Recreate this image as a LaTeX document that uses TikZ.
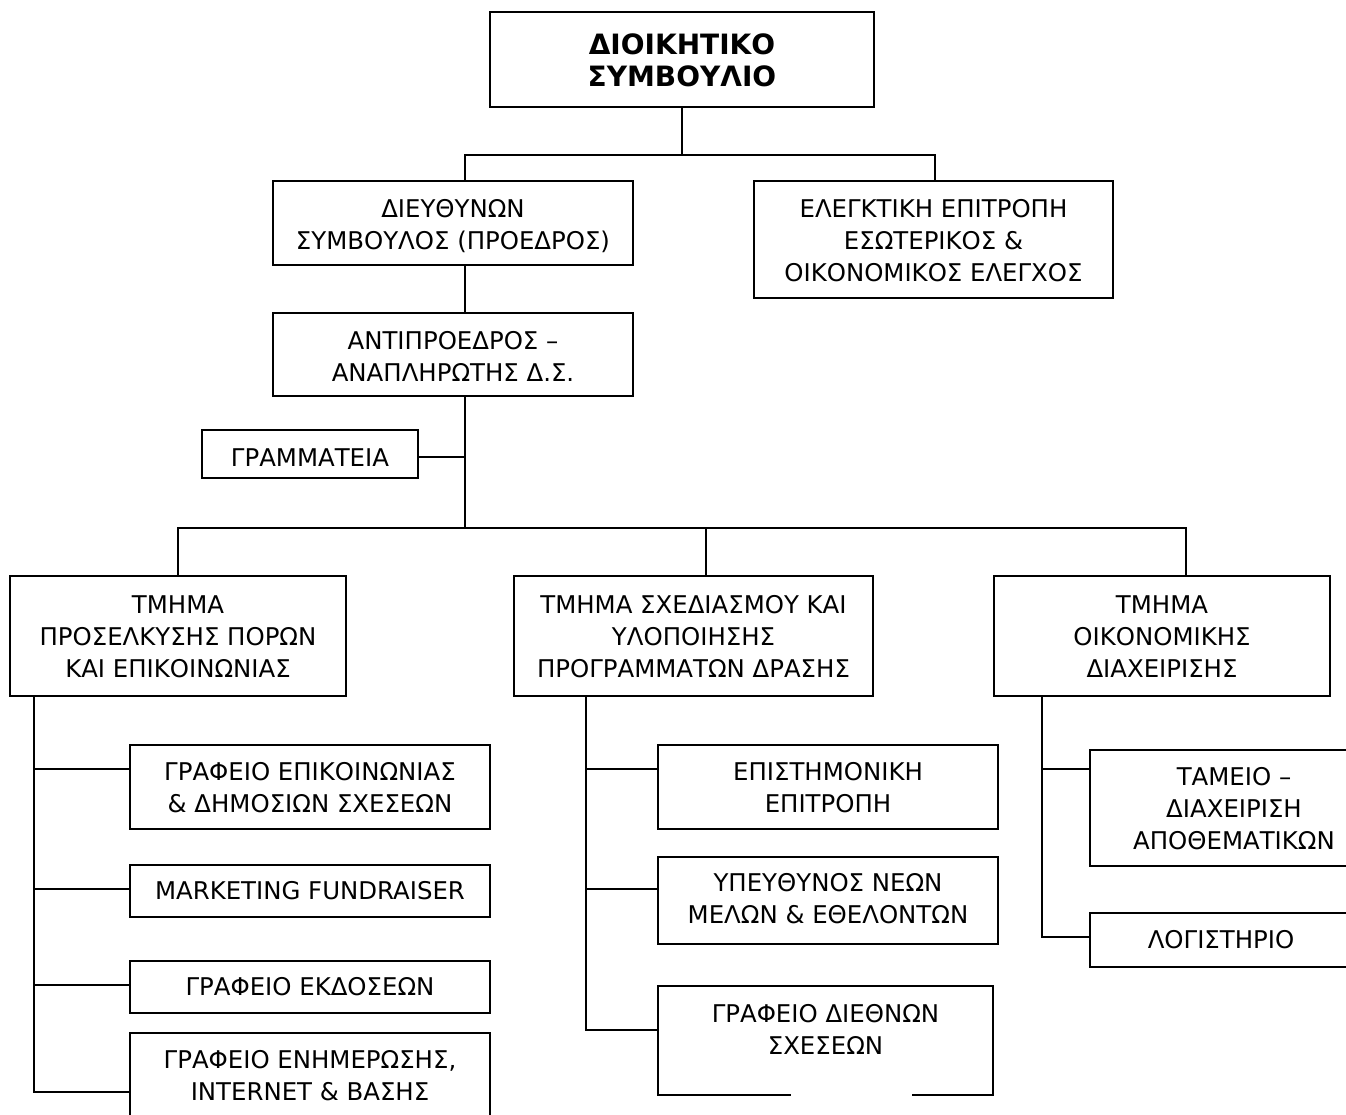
\documentclass[tikz,border=0pt]{standalone}
\usepackage{fontspec}
\setmainfont{DejaVu Sans}
\usetikzlibrary{fit}
\begin{document}
\begin{tikzpicture}[x=0.5pt,y=-0.5pt,
  box/.style={draw, line width=1pt, inner sep=0pt, outer sep=0pt},
  frame/.style={inner sep=0pt, outer sep=0pt},
  txt/.style={inner sep=0pt, outer sep=0pt, align=center},
  ln/.style={line width=1pt},
  font=\fontsize{12.2}{16}\selectfont]
\useasboundingbox (0,0) rectangle (1346,1115);
% boxes
\node[box, fit={(490,12)(874,107)}] (top) {};
\node[box, fit={(273,181)(633,265)}] (dir) {};
\node[box, fit={(754,181)(1113,298)}] (ele) {};
\node[box, fit={(273,313)(633,396)}] (ant) {};
\node[box, fit={(202,430)(418,478)}] (gra) {};
\node[box, fit={(10,576)(346,696)}] (t1) {};
\node[box, fit={(514,576)(873,696)}] (t2) {};
\node[box, fit={(994,576)(1330,696)}] (t3) {};
\node[box, fit={(130,745)(490,829)}] (g1) {};
\node[box, fit={(130,865)(490,917)}] (g2) {};
\node[box, fit={(130,961)(490,1013)}] (g3) {};
\node[box, fit={(130,1033)(490,1125)}] (g4) {};
\node[box, fit={(658,745)(998,829)}] (m1) {};
\node[box, fit={(658,857)(998,944)}] (m2) {};
\node[frame, fit={(658,986)(993,1095)}] (m3) {};
\draw[ln] ([xshift=-17.5pt]m3.south) -| (m3.north west) -| (m3.south east) -- ([xshift=43pt]m3.south);
\node[box, fit={(1090,750)(1378,866)}] (r1) {};
\node[box, fit={(1090,913)(1352,967)}] (r2) {};
% texts
\node[txt, font=\fontsize{14}{16}\selectfont\bfseries] (topT) at ([yshift=-0.5pt]top.center) {ΔΙΟΙΚΗΤΙΚΟ\\ΣΥΜΒΟΥΛΙΟ};
\node[txt] (dirT) at ([yshift=-1.5pt]dir.center) {ΔΙΕΥΘΥΝΩΝ\\ΣΥΜΒΟΥΛΟΣ (ΠΡΟΕΔΡΟΣ)};
\node[txt] (eleT) at ([yshift=-0.5pt]ele.center) {ΕΛΕΓΚΤΙΚΗ ΕΠΙΤΡΟΠΗ\\ΕΣΩΤΕΡΙΚΟΣ \&\\ΟΙΚΟΝΟΜΙΚΟΣ ΕΛΕΓΧΟΣ};
\node[txt] (antT) at ([yshift=-1pt]ant.center) {ΑΝΤΙΠΡΟΕΔΡΟΣ –\\ΑΝΑΠΛΗΡΩΤΗΣ Δ.Σ.};
\node[txt] (graT) at ([yshift=-2pt]gra.center) {ΓΡΑΜΜΑΤΕΙΑ};
\node[txt] (t1T) at ([yshift=-0.5pt]t1.center) {ΤΜΗΜΑ\\ΠΡΟΣΕΛΚΥΣΗΣ ΠΟΡΩΝ\\ΚΑΙ ΕΠΙΚΟΙΝΩΝΙΑΣ};
\node[txt] (t2T) at ([yshift=-0.5pt]t2.center) {ΤΜΗΜΑ ΣΧΕΔΙΑΣΜΟΥ ΚΑΙ\\ΥΛΟΠΟΙΗΣΗΣ\\ΠΡΟΓΡΑΜΜΑΤΩΝ ΔΡΑΣΗΣ};
\node[txt] (t3T) at ([yshift=-0.5pt]t3.center) {ΤΜΗΜΑ\\ΟΙΚΟΝΟΜΙΚΗΣ\\ΔΙΑΧΕΙΡΙΣΗΣ};
\node[txt] (g1T) at ([yshift=-0.5pt]g1.center) {ΓΡΑΦΕΙΟ ΕΠΙΚΟΙΝΩΝΙΑΣ\\\& ΔΗΜΟΣΙΩΝ ΣΧΕΣΕΩΝ};
\node[txt] (g2T) at (g2.center) {MARKETING FUNDRAISER};
\node[txt] (g3T) at (g3.center) {ΓΡΑΦΕΙΟ ΕΚΔΟΣΕΩΝ};
\node[txt] (g4T) at ([yshift=1.5pt]g4.center) {ΓΡΑΦΕΙΟ ΕΝΗΜΕΡΩΣΗΣ,\\INTERNET \& ΒΑΣΗΣ};
\node[txt] (m1T) at ([yshift=-0.5pt]m1.center) {ΕΠΙΣΤΗΜΟΝΙΚΗ\\ΕΠΙΤΡΟΠΗ};
\node[txt] (m2T) at ([yshift=1pt]m2.center) {ΥΠΕΥΘΥΝΟΣ ΝΕΩΝ\\ΜΕΛΩΝ \& ΕΘΕΛΟΝΤΩΝ};
\node[txt] (m3T) at ([yshift=5.5pt]m3.center) {ΓΡΑΦΕΙΟ ΔΙΕΘΝΩΝ\\ΣΧΕΣΕΩΝ};
\node[txt] (r1T) at ([yshift=-0.5pt]r1.center) {ΤΑΜΕΙΟ –\\ΔΙΑΧΕΙΡΙΣΗ\\ΑΠΟΘΕΜΑΤΙΚΩΝ};
\node[txt] (r2T) at (r2.center) {ΛΟΓΙΣΤΗΡΙΟ};
% junction coordinates
\coordinate (ja) at (682,155);
\coordinate (jl) at (465,155);
\coordinate (jr) at (935,155);
\coordinate (jb) at (465,528);
\coordinate (k1) at (178,528);
\coordinate (k2) at (706,528);
\coordinate (k3) at (1186,528);
\coordinate (sl) at (34,1092);
\coordinate (sm) at (586,1030);
\coordinate (sr) at (1042,937);
% connectors top
\draw[ln] (top.south) -- (ja);
\draw[ln] (jl |- dir.north) -- (jl) -- (jr) -- (jr |- ele.north);
\draw[ln] (jl |- dir.south) -- (jl |- ant.north);
\draw[ln] (jl |- ant.south) -- (jb);
\draw[ln] ([yshift=-1.5pt]gra.east) -- ([yshift=-1.5pt]gra.east -| jb);
\draw[ln] (k1 |- t1.north) -- (k1) -- (k3) -- (k3 |- t3.north);
\draw[ln] (k2) -- (k2 |- t2.north);
% branch points on boxes
\coordinate (g1b) at ([yshift=-12pt]g1.north west);
\coordinate (g2b) at ([yshift=-12pt]g2.north west);
\coordinate (g3b) at ([yshift=-12pt]g3.north west);
\coordinate (g4b) at ([yshift=-29.5pt]g4.north west);
\coordinate (m1b) at ([yshift=-12pt]m1.north west);
\coordinate (m2b) at ([yshift=-16pt]m2.north west);
\coordinate (m3b) at ([yshift=-22pt]m3.north west);
\coordinate (r1b) at ([yshift=-9.5pt]r1.north west);
\coordinate (r2b) at ([yshift=-12pt]r2.north west);
% left spine
\draw[ln] (sl |- t1.south) -- (sl |- g4b) -- (g4b);
\draw[ln] (sl |- g1b) -- (g1b);
\draw[ln] (sl |- g2b) -- (g2b);
\draw[ln] (sl |- g3b) -- (g3b);
% middle spine
\draw[ln] (sm |- t2.south) -- (sm |- m3b) -- (m3b);
\draw[ln] (sm |- m1b) -- (m1b);
\draw[ln] (sm |- m2b) -- (m2b);
% right spine
\draw[ln] (sr |- t3.south) -- (sr |- r2b) -- (r2b);
\draw[ln] (sr |- r1b) -- (r1b);
\end{tikzpicture}
\end{document}
